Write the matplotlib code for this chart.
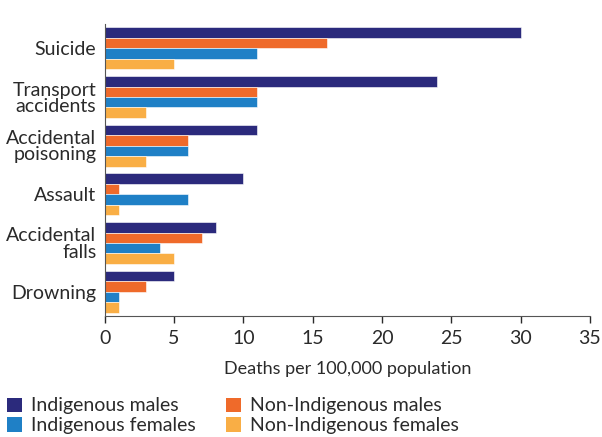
import numpy as np
import matplotlib.pyplot as plt
from matplotlib.patches import Patch

plt.rcParams['font.family'] = ['Lato', 'DejaVu Sans']

causes = ['Suicide', 'Transport\naccidents', 'Accidental\npoisoning', 'Assault',
          'Accidental\nfalls', 'Drowning']
indig_males = [30, 24, 11, 10, 8, 5]
nonindig_males = [16, 11, 6, 1, 7, 3]
indig_females = [11, 11, 6, 6, 4, 1]
nonindig_females = [5, 3, 3, 1, 5, 1]

series = [indig_males, nonindig_males, indig_females, nonindig_females]
names = ['Indigenous males', 'Non-Indigenous males',
         'Indigenous females', 'Non-Indigenous females']
colors = ['#2b2a7c', '#ef6a2a', '#1f80c6', '#f9ae45']

fig = plt.figure(figsize=(6.02, 4.37), dpi=100)
ax = fig.add_axes([0.174, 0.277, 0.806, 0.668])

pos = np.arange(len(causes))
h = 0.215
for i, vals in enumerate(series):
    ax.barh(pos + (i - 1.5) * h, vals, height=h, color=colors[i],
            edgecolor='white', linewidth=0.4)

ax.set_yticks(pos)
ax.set_yticklabels(causes, fontsize=14, color='#2a2a2a', linespacing=0.95)
ax.set_ylim(len(causes) - 0.5, -0.5)
ax.set_xlim(0, 35)
ax.set_xticks(range(0, 36, 5))
ax.tick_params(axis='x', labelsize=14, colors='#2a2a2a', length=5, width=1, pad=5)
ax.tick_params(axis='y', length=0, pad=6)
ax.set_xlabel('Deaths per 100,000 population', fontsize=13, color='#2a2a2a', labelpad=10)
for s in ['top', 'right']:
    ax.spines[s].set_visible(False)
ax.spines['left'].set_color('#555555')
ax.spines['bottom'].set_color('#555555')

order = [0, 2, 1, 3]
handles = [Patch(facecolor=colors[i], edgecolor='none') for i in order]
fig.legend(handles, [names[i] for i in order], loc='lower left',
           bbox_to_anchor=(-0.017, -0.034), ncol=2,
           frameon=False, fontsize=14, handlelength=0.75, handleheight=0.75,
           handletextpad=0.45, columnspacing=1.6, labelspacing=0.15,
           labelcolor='#2a2a2a')

plt.savefig('out.png', dpi=100)
